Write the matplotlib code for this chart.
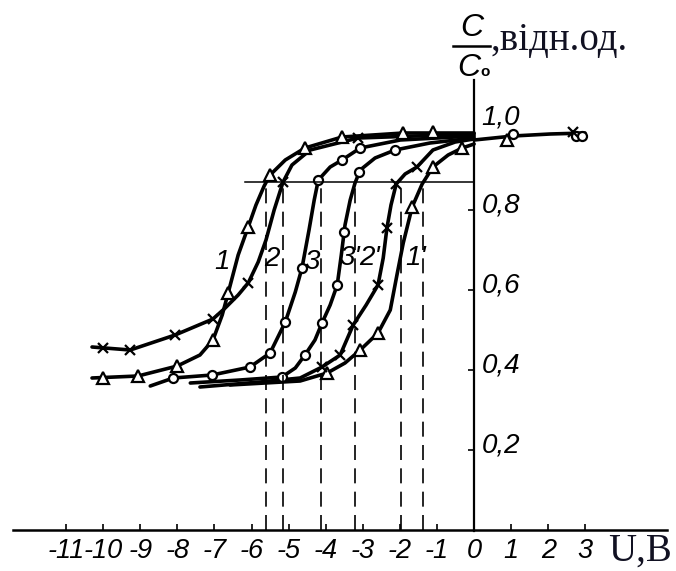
import matplotlib
matplotlib.use("Agg")
import matplotlib.pyplot as plt

# curve lines (U in volts, C/C0)
c1_u = [-10.3, -9.06, -8.0, -7.39, -7.04, -6.79, -6.63, -6.36, -6.09, -5.88, -5.66, -5.5, -5.09, -4.56, -3.56, -1.91, 0]
c1_c = [0.38, 0.385, 0.41, 0.4375, 0.475, 0.5375, 0.5925, 0.6875, 0.7575, 0.8125, 0.86, 0.8875, 0.925, 0.955, 0.9825, 0.9925, 0.9925]
c2_u = [-10.3, -9.27, -8.06, -7.04, -6.71, -6.36, -6.09, -5.82, -5.61, -5.39, -5.15, -4.91, -4.42, -3.13, 0]
c2_c = [0.4575, 0.45, 0.4875, 0.5275, 0.555, 0.5875, 0.6175, 0.67, 0.725, 0.80, 0.87, 0.9125, 0.95, 0.98, 0.99]
c3_u = [-8.73, -8.11, -7.06, -6.04, -5.5, -5.09, -4.82, -4.64, -4.45, -4.31, -4.2, -3.88, -3.56, -3.07, -1.99, 0]
c3_c = [0.36, 0.38, 0.3875, 0.4075, 0.4425, 0.52, 0.595, 0.655, 0.75, 0.825, 0.875, 0.9075, 0.925, 0.955, 0.975, 0.985]
c3p_u = [-7.65, -6.31, -5.18, -4.82, -4.56, -4.29, -4.1, -3.88, -3.69, -3.58, -3.48, -3.34, -3.21, -3.07, -2.67, -2.13, -1.19, 0]
c3p_c = [0.3675, 0.375, 0.3825, 0.405, 0.4375, 0.475, 0.5175, 0.5625, 0.6125, 0.6875, 0.7625, 0.825, 0.8675, 0.90, 0.93, 0.95, 0.9675, 0.98]
c2p_u = [-7.39, -5.77, -4.69, -4.1, -3.61, -3.26, -2.91, -2.59, -2.45, -2.35, -2.24, -2.1, -1.86, -1.54, -1.11, -0.51, 0]
c2p_c = [0.3575, 0.37, 0.38, 0.4075, 0.4375, 0.5125, 0.5625, 0.6125, 0.68, 0.755, 0.8125, 0.865, 0.89, 0.9075, 0.95, 0.97, 0.9775]
c1p_u = [-6.58, -4.69, -3.96, -3.48, -3.07, -2.59, -2.26, -2.08, -1.91, -1.67, -1.4, -1.11, -0.7, -0.32, 0]
c1p_c = [0.3625, 0.3725, 0.3925, 0.4175, 0.45, 0.4925, 0.55, 0.6375, 0.7175, 0.8075, 0.865, 0.9075, 0.9375, 0.955, 0.965]
right_u = [0, 1.05, 2.05, 2.99]
right_c = [0.975, 0.985, 0.99, 0.9925]

# measured points (markers)
m_tri_u = [-10.0, -9.06, -8.0, -7.04, -6.63, -6.09, -5.5, -4.56, -3.56, -1.91, -1.1,
           -3.96, -3.07, -2.59, -1.67, -1.11, -0.32, 0.9]
m_tri_c = [0.38, 0.385, 0.41, 0.475, 0.5925, 0.7575, 0.8875, 0.955, 0.9825, 0.9925, 0.995,
           0.3925, 0.45, 0.4925, 0.8075, 0.9075, 0.955, 0.975]
m_x_u = [-10.0, -9.27, -8.06, -7.04, -6.09, -5.15, -3.13,
         -4.1, -3.61, -3.26, -2.59, -2.35, -2.1, -1.54, 2.67]
m_x_c = [0.455, 0.45, 0.4875, 0.5275, 0.6175, 0.87, 0.98,
         0.4075, 0.4375, 0.5125, 0.6125, 0.755, 0.865, 0.9075, 0.995]
m_o_u = [-8.11, -7.06, -6.04, -5.5, -5.09, -4.64, -4.2, -3.56, -3.07,
         -5.18, -4.56, -4.1, -3.69, -3.5, -3.1, -2.13, 1.05, 2.75, 2.92]
m_o_c = [0.38, 0.3875, 0.4075, 0.4425, 0.52, 0.655, 0.875, 0.925, 0.955,
         0.3825, 0.4375, 0.5175, 0.6125, 0.745, 0.895, 0.95, 0.99, 0.985, 0.985]

level = 0.87
cross_u = [-5.61, -5.15, -4.12, -3.21, -1.97, -1.39]

curve_names = ["1", "2", "3", "3'", "2'", "1'"]
name_u = [-6.8, -5.45, -4.37, -3.36, -2.83, -1.57]
name_c = [0.67, 0.678, 0.67, 0.68, 0.68, 0.68]

xticks = list(range(-11, 4))
xlabels = ["-11", "-10", "-9", "-8", "-7", "-6", "-5", "-4", "-3", "-2", "-1", "0", "1", "2", "3"]
yticks = [0.2, 0.4, 0.6, 0.8, 1.0]
ylabels = ["0,2", "0,4", "0,6", "0,8", "1,0"]

hand = ["Liberation Sans Narrow", "Liberation Sans", "DejaVu Sans"]
serif = ["Liberation Serif", "DejaVu Serif"]
ink = "#111122"

fig = plt.figure(figsize=(6.76, 5.71), dpi=100)
ax = fig.add_axes([13 / 676, 40 / 571, 654 / 676, 451 / 571])
ax.set_xlim(-12.43, 5.2)
ax.set_ylim(-0.0025, 1.125)

for s in ["top", "right"]:
    ax.spines[s].set_visible(False)
ax.spines["left"].set_position(("data", 0))
ax.spines["bottom"].set_position(("data", 0))
ax.spines["left"].set_linewidth(1.6)
ax.spines["bottom"].set_linewidth(1.8)

ax.set_xticks(xticks)
ax.set_xticklabels(xlabels, family=hand, style="italic", fontsize=19.5)
ax.tick_params(axis="x", direction="in", length=4, width=1.2, pad=6)
ax.set_yticks(yticks[:-1])
ax.set_yticklabels([])
ax.tick_params(axis="y", direction="out", length=4, width=1.2)
for v, lab in zip(yticks, ylabels):
    off = 0.03 if v == 1.0 else 0.012
    ax.text(0.2, v + off, lab, family=hand, style="italic", fontsize=20,
            ha="left", va="center")

lw = 2.6
for u, c in [(c1_u, c1_c), (c2_u, c2_c), (c3_u, c3_c), (c3p_u, c3p_c),
             (c2p_u, c2p_c), (c1p_u, c1p_c), (right_u, right_c)]:
    ax.plot(u, c, color="black", lw=lw, solid_capstyle="round", solid_joinstyle="round")

ax.plot(m_tri_u, m_tri_c, ls="none", marker="^", ms=8, mfc="white", mec="black", mew=1.6)
ax.plot(m_o_u, m_o_c, ls="none", marker="o", ms=6.5, mfc="white", mec="black", mew=1.6)
ax.plot(m_x_u, m_x_c, ls="none", marker="x", ms=7, mec="black", mew=1.6)

ax.plot([-6.17, 0], [level, level], color="black", lw=1.1)
for u in cross_u:
    ax.plot([u, u], [0, level], color="black", lw=1.2, dashes=(9, 5))

for n, u, c in zip(curve_names, name_u, name_c):
    ax.text(u, c, n, family=hand, style="italic", fontsize=20, ha="center", va="center")

# axis titles
fig.text(640 / 676, 1 - 551 / 571, "U,B", family=serif, fontsize=28, color=ink,
         ha="center", va="center")
fig.text(472 / 676, 1 - 36 / 571, "C", family=hand, style="italic", fontsize=23,
         ha="center", va="baseline")
fig.lines.append(plt.Line2D([453 / 676, 490 / 676], [1 - 46 / 571, 1 - 46 / 571],
                            transform=fig.transFigure, color="black", lw=1.8))
fig.text(469 / 676, 1 - 76 / 571, "C", family=hand, style="italic", fontsize=23,
         ha="center", va="baseline")
fig.text(485 / 676, 1 - 76 / 571, "o", family=hand, fontsize=11, weight="bold",
         ha="center", va="baseline")
fig.text(491 / 676, 1 - 50 / 571, ",відн.од.", family=serif, fontsize=28, color=ink,
         ha="left", va="baseline")

fig.savefig("out.png", dpi=100)
